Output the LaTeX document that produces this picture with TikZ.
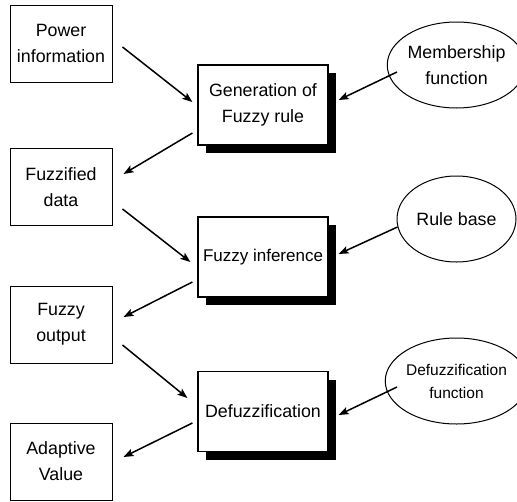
\documentclass[tikz,border=0pt]{standalone}
\usepackage{fontspec}
\setmainfont{Liberation Sans}
\usetikzlibrary{shapes.geometric,shadows,calc,arrows.meta}
\begin{document}
\begin{tikzpicture}[x=1pt,y=-1pt,
  txt/.style={font=\fontsize{17.8}{26}\selectfont, align=center, inner sep=0pt},
  lbox/.style={txt, draw, line width=1pt, minimum width=102pt, minimum height=77pt},
  mbox/.style={txt, draw, line width=1.2pt, fill=white, minimum width=130pt, minimum height=80pt,
     general shadow={fill=black, shadow xshift=8pt, shadow yshift=-8pt}},
  ell/.style={txt, draw, ellipse, line width=1pt, minimum width=119pt, minimum height=86pt},
  arr/.style={-{Stealth[length=10pt,width=7.5pt,inset=2pt]}, line width=1.5pt}]
\useasboundingbox (0,0) rectangle (517,501);
% left boxes
\node[lbox] (pi) at (61,43.5) {Power\\information};
\node[lbox] (fd) at (61,187) {Fuzzified\\data};
\node[lbox] (fo) at (61,324.5) {Fuzzy\\output};
\node[lbox] (av) at (61,461.5) {Adaptive\\Value};
% middle boxes
\node[mbox] (gen) at (263,105) {Generation of\\Fuzzy rule};
\node[mbox, font=\fontsize{17}{25}\selectfont] (inf) at (263,257) {Fuzzy inference};
\node[mbox] (dfz) at (263,411.5) {Defuzzification};
% ellipses
\node[ell] (mf) at (456.5,65) {Membership\\function};
\node[ell] (rb) at (456.5,219) {Rule base};
\node[ell, font=\fontsize{15.5}{23}\selectfont] (df) at (456.5,381) {Defuzzification\\function};
% arrows
\draw[arr] ($(pi.east)+(10,3.5)$) -- ($(gen.west)+(-5,-3)$);
\draw[arr] ($(gen.west)+(-5,28)$) -- ($(fd.east)+(11,-13)$);
\draw[arr] ($(mf.center)+(-59.5,7)$) -- ($(gen.east)+(10,-5)$);
\draw[arr] ($(fd.east)+(10,22)$) -- ($(inf.west)+(-7,5)$);
\draw[arr] ($(rb.center)+(-59,8)$) -- ($(inf.east)+(10,-3)$);
\draw[arr] ($(inf.west)+(-5,25)$) -- ($(fo.east)+(11,-7.5)$);
\draw[arr] ($(fo.east)+(10,20.5)$) -- ($(dfz.west)+(-10,-13.5)$);
\draw[arr] ($(dfz.west)+(-5,11.5)$) -- ($(av.east)+(11,-4.5)$);
\draw[arr] ($(df.center)+(-59.5,6)$) -- ($(dfz.east)+(10,3.5)$);
\end{tikzpicture}
\end{document}
